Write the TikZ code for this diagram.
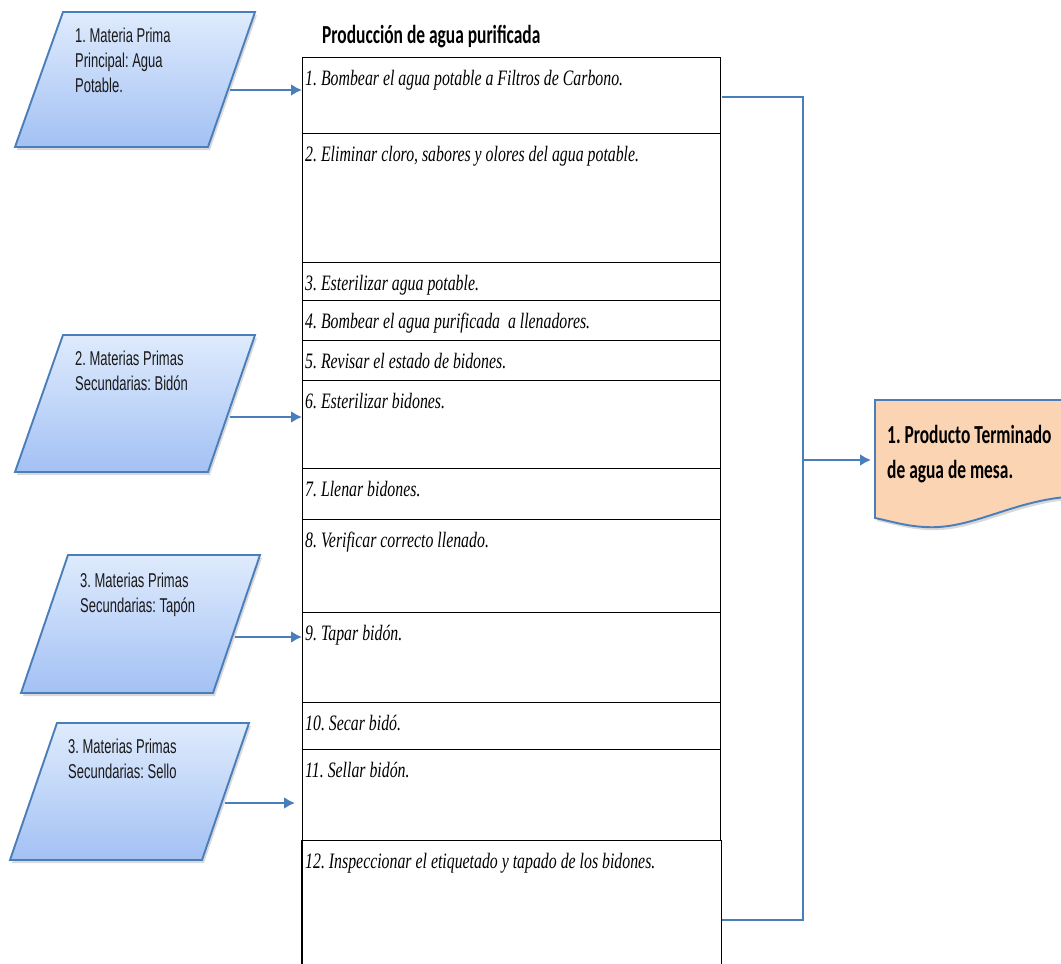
\documentclass[tikz,border=0pt]{standalone}
\usepackage{fontspec}
\setmainfont{Liberation Serif}
\newfontfamily\narrowsans{Liberation Sans}[FakeStretch=0.65]
\newfontfamily\stepfont{Liberation Serif}[FakeStretch=0.72]
\newfontfamily\headfont{Carlito}[FakeStretch=0.67]
\usetikzlibrary{arrows.meta,shadows}
\frenchspacing

\definecolor{lineblue}{HTML}{4A7EBB}
\definecolor{boxtop}{HTML}{DFEBFD}
\definecolor{boxbot}{HTML}{A3C1F4}
\definecolor{peach}{HTML}{FBD4B4}

\tikzset{
  inbox/.style={draw=lineblue, line width=1.9pt, top color=boxtop, bottom color=boxbot,
    drop shadow={shadow xshift=2pt, shadow yshift=-3pt, opacity=0.3}},
  docbox/.style={draw=lineblue, line width=1.9pt, fill=peach,
    drop shadow={shadow xshift=2pt, shadow yshift=-3pt, opacity=0.3}},
  feed/.style={draw=lineblue, line width=2.6pt, -{Latex[length=11pt,width=12pt]}},
  bracket/.style={draw=lineblue, line width=2.6pt},
  cell/.style={draw=black, line width=1.4pt, minimum width=418pt, inner sep=0pt, anchor=north west},
  rule/.style={draw=black, line width=1.4pt},
  steptext/.style={anchor=base west, inner sep=0pt, font=\stepfont\itshape\fontsize{22}{26}\selectfont},
  intext/.style={anchor=base west, inner sep=0pt, text=black!90, font=\narrowsans\fontsize{20}{24}\selectfont},
  headtext/.style={anchor=base west, inner sep=0pt, font=\headfont\bfseries\fontsize{26}{30}\selectfont}
}

\begin{document}
\begin{tikzpicture}[x=1pt, y=-1pt]
  \useasboundingbox (0,0) rectangle (1061,964);

  % inputs
  \draw[inbox] (63,12) -- (255,12) -- (208,147) -- (15,147) -- cycle;
  \draw[inbox] (63,335) -- (255,335) -- (208,472) -- (15,472) -- cycle;
  \draw[inbox] (68,555) -- (260,555) -- (213,693) -- (21,693) -- cycle;
  \draw[inbox] (57,723) -- (249,723) -- (202,860) -- (10,860) -- cycle;
  \node[intext] (in1a) at (75,42) {1. Materia Prima};
  \node[intext] (in1b) at (75,67) {Principal: Agua};
  \node[intext] (in1c) at (75,92) {Potable.};
  \node[intext] (in2a) at (75,365) {2. Materias Primas};
  \node[intext] (in2b) at (75,390) {Secundarias: Bidón};
  \node[intext] (in3a) at (80,587) {3. Materias Primas};
  \node[intext] (in3b) at (80,612) {Secundarias: Tapón};
  \node[intext] (in4a) at (68,753) {3. Materias Primas};
  \node[intext] (in4b) at (68,778) {Secundarias: Sello};
  \coordinate (m1) at (230,90);
  \coordinate (m2) at (230,417);
  \coordinate (m3) at (235,637);
  \coordinate (m4) at (225,803);

  % process table
  \node[headtext] (title) at (322,43) {Producción de agua purificada};
  \node[cell, minimum height=76pt] (r1) at (302,57) {};
  \node[cell, minimum height=129pt] (r2) at (302,133) {};
  \node[cell, minimum height=38pt] (r3) at (302,262) {};
  \node[cell, minimum height=40pt] (r4) at (302,300) {};
  \node[cell, minimum height=40pt] (r5) at (302,340) {};
  \node[cell, minimum height=88pt] (r6) at (302,380) {};
  \node[cell, minimum height=51pt] (r7) at (302,468) {};
  \node[cell, minimum height=93pt] (r8) at (302,519) {};
  \node[cell, minimum height=90pt] (r9) at (302,612) {};
  \node[cell, minimum height=47pt] (r10) at (302,702) {};
  \node[cell, minimum height=91pt] (r11) at (302,749) {};
  \node[cell, draw=none, minimum height=124pt] (r12) at (302,840) {};
  \draw[rule] (r12.south west) -- (r12.north west);
  \draw[rule] (r12.south east) -- (r12.north east);
  \node[steptext] (t1) at ([shift={(3,28)}]r1.north west) {1. Bombear el agua potable a Filtros de Carbono.};
  \node[steptext] (t2) at ([shift={(3,28)}]r2.north west) {2. Eliminar cloro, sabores y olores del agua potable.};
  \node[steptext] (t3) at ([shift={(3,28)}]r3.north west) {3. Esterilizar agua potable.};
  \node[steptext] (t4) at ([shift={(3,28)}]r4.north west) {4. Bombear el agua purificada \ a llenadores.};
  \node[steptext] (t5) at ([shift={(3,28)}]r5.north west) {5. Revisar el estado de bidones.};
  \node[steptext] (t6) at ([shift={(3,28)}]r6.north west) {6. Esterilizar bidones.};
  \node[steptext] (t7) at ([shift={(3,28)}]r7.north west) {7. Llenar bidones.};
  \node[steptext] (t8) at ([shift={(3,28)}]r8.north west) {8. Verificar correcto llenado.};
  \node[steptext] (t9) at ([shift={(3,28)}]r9.north west) {9. Tapar bidón.};
  \node[steptext] (t10) at ([shift={(3,28)}]r10.north west) {10. Secar bidó.};
  \node[steptext] (t11) at ([shift={(3,28)}]r11.north west) {11. Sellar bidón.};
  \node[steptext] (t12) at ([shift={(3,28)}]r12.north west) {12. Inspeccionar el etiquetado y tapado de los bidones.};

  % feeds into the table
  \draw[feed] (m1) -- (r1.west |- m1);
  \draw[feed] (m2) -- (r2.west |- m2);
  \draw[feed] (m3) -- (r9.west |- m3);
  \draw[feed, shorten >=7pt] (m4) -- (r11.west |- m4);

  % output
  \node[inner sep=0pt, minimum width=190pt, minimum height=120pt, anchor=north west] (doc) at (875,400) {};
  \draw[docbox] (doc.north west) -- (1066,400) -- (1066,497)
    .. controls (1010,502) and (970,530) .. (925,527)
    .. controls (905,526) and (890,521) .. (875,518) -- cycle;
  \node[headtext] (prod1) at (887,443) {1. Producto Terminado};
  \node[headtext] (prod2) at (887,478) {de agua de mesa.};
  \coordinate (bt) at (722,97);
  \coordinate (bm) at (803,460);
  \coordinate (bb) at (722,920);
  \draw[bracket] (bt) -| (bm) |- (bb);
  \draw[feed, shorten >=4pt] (bm) -- (doc.west |- bm);
\end{tikzpicture}
\end{document}
